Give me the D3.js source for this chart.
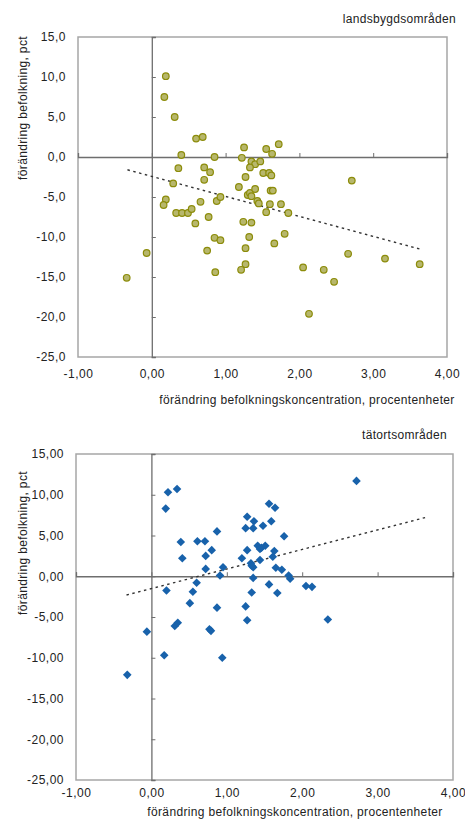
<!DOCTYPE html>
<html>
<head>
<meta charset="utf-8">
<script src="https://cdn.jsdelivr.net/npm/d3@7"></script>
<style>
  body { margin: 0; background: #fff; }
  svg { display: block; }
  text { font-family: "Liberation Sans", Arial, sans-serif; fill: #222; }
</style>
</head>
<body>
<svg id="chart" width="465" height="825"></svg>
<script>
// ---------- DATA ----------
// Top panel: landsbygdsområden
const ruralX = [0.19,0.17,0.31,0.60,0.69,1.25,0.40,0.85,1.22,0.36,0.71,0.79,1.55,1.72,1.63,1.35,1.40,1.47,1.33,1.27,
  1.51,1.59,1.62,0.71,2.71,0.29,1.18,0.19,0.16,0.66,0.88,0.93,0.33,0.41,0.49,0.54,0.77,0.59,0.85,0.93,
  0.75,0.86,-0.07,-0.34,1.24,1.35,1.32,1.27,1.27,1.21,1.30,1.33,1.35,1.40,1.61,1.64,1.43,1.45,1.60,1.75,
  1.55,1.85,1.80,1.66,2.66,3.16,3.63,2.05,2.33,2.47,2.13];
const ruralY = [10.1,7.5,5.0,2.3,2.5,1.2,0.25,0.0,-0.1,-1.4,-1.3,-1.9,1.0,1.6,0.4,-0.55,-0.9,-0.55,-1.3,-2.5,
  -2.0,-2.0,-2.3,-2.85,-2.95,-3.3,-3.75,-5.3,-6.0,-5.6,-5.5,-5.0,-7.0,-7.0,-7.0,-6.5,-7.5,-8.3,-10.1,-10.4,
  -11.7,-14.4,-12.0,-15.1,-8.1,-8.2,-10.0,-11.4,-13.4,-14.1,-4.75,-4.5,-4.9,-4.0,-4.2,-4.2,-5.5,-5.8,-5.9,-5.9,
  -6.9,-7.0,-9.6,-10.8,-12.1,-12.7,-13.4,-13.8,-14.1,-15.6,-19.6];

// Bottom panel: tätortsområden
const urbanX = [0.22,0.34,0.19,0.39,0.61,0.71,0.87,0.80,0.72,0.41,0.72,0.95,0.91,1.20,1.27,1.25,1.27,1.36,1.35,1.41,
  1.44,1.46,1.51,1.32,1.35,1.44,1.33,1.35,0.60,0.20,0.55,0.51,0.87,1.25,2.72,1.56,1.64,1.59,1.48,1.76,
  1.63,1.61,1.65,1.73,1.82,1.84,2.05,2.13,1.56,1.33,1.67,1.27,2.34,0.31,0.35,0.77,0.79,-0.06,0.17,0.94,-0.32];
const urbanY = [10.3,10.7,8.3,4.2,4.3,4.3,5.5,3.2,2.5,2.2,0.9,1.1,0.1,2.2,3.2,5.9,7.3,6.75,5.9,3.75,
  3.35,3.5,3.75,1.6,1.1,2.0,1.3,-0.2,-0.8,-1.75,-1.9,-3.3,-3.85,-3.7,11.7,8.9,8.4,6.75,6.2,4.9,
  3.1,2.4,1.05,0.8,0.1,-0.3,-1.2,-1.3,-1.0,-2.0,-2.05,-5.4,-5.3,-6.1,-5.7,-6.5,-6.7,-6.8,-9.7,-10.0,-12.1];

// Trend lines (endpoints)
const trendX = [-0.33, 3.63];
const ruralTrendY = [-1.6, -11.5];
const urbanTrendY = [-2.3, 7.2];

// Axis ticks / labels
const xTicks = [-1, 0, 1, 2, 3, 4];
const yTicks = [-25, -20, -15, -10, -5, 0, 5, 10, 15];
const ruralTitle = "landsbygdsområden";
const urbanTitle = "tätortsområden";
const xTitle = "förändring befolkningskoncentration, procentenheter";
const yTitle = "förändring befolkning, pct";

// ---------- DRAW ----------
const sv = d3.formatLocale({decimal: ",", thousands: " ", grouping: [3], currency: ["", " kr"], minus: "-"});
const svg = d3.select("#chart");
const FONT = "Liberation Sans, Arial, sans-serif";

function panel(cfg) {
  const x = d3.scaleLinear().domain([-1, 4]).range([cfg.x0, cfg.x1]);
  const y = d3.scaleLinear().domain([-25, 15]).range([cfg.y1, cfg.y0]);
  const g = svg.append("g");

  // plot border
  g.append("rect")
    .attr("x", cfg.x0).attr("y", cfg.y0)
    .attr("width", cfg.x1 - cfg.x0).attr("height", cfg.y1 - cfg.y0)
    .attr("fill", "none").attr("stroke", "#a6a6a6").attr("stroke-width", 1.5);

  // Zero axes with small ticks
  const yAxisZero = g.append("g").attr("transform", `translate(${x(0)},0)`)
    .call(d3.axisRight(y).tickValues(yTicks).tickSize(4).tickFormat(""));
  yAxisZero.select(".domain").attr("stroke", "#6e6e6e").attr("stroke-width", 1.3);
  yAxisZero.selectAll(".tick line").attr("stroke", "#6e6e6e");

  const xAxisZero = g.append("g").attr("transform", `translate(0,${y(0)})`)
    .call(d3.axisTop(x).tickValues(xTicks).tickSize(4).tickFormat(""));
  xAxisZero.select(".domain").attr("stroke", "#6e6e6e").attr("stroke-width", 1.3);
  xAxisZero.selectAll(".tick line").attr("stroke", "#6e6e6e");

  // tick labels at plot edges
  const yLab = g.append("g").attr("transform", `translate(${cfg.x0 - 9},0)`)
    .call(d3.axisLeft(y).tickValues(yTicks).tickSize(0).tickFormat(sv.format(cfg.yFmt)));
  yLab.select(".domain").remove();
  yLab.selectAll("text").attr("font-size", 12).attr("font-family", FONT)
    .attr("letter-spacing", 0.5).attr("fill", "#222");

  const xLab = g.append("g").attr("transform", `translate(0,${cfg.y1 + cfg.xlOff})`)
    .call(d3.axisBottom(x).tickValues(xTicks).tickSize(0).tickFormat(sv.format(".2f")));
  xLab.select(".domain").remove();
  xLab.selectAll("text").attr("font-size", 12).attr("font-family", FONT)
    .attr("letter-spacing", 0.5).attr("fill", "#222");

  // titles
  g.append("text").attr("x", cfg.subX).attr("y", cfg.subY).attr("text-anchor", "end")
    .attr("font-size", 12).attr("letter-spacing", 0.3).text(cfg.sub);
  g.append("text").attr("x", cfg.xtX).attr("y", cfg.xtY).attr("text-anchor", "middle")
    .attr("font-size", 12).attr("letter-spacing", 0.35).text(xTitle);
  g.append("text").attr("transform", `translate(${cfg.ytX},${cfg.ytY}) rotate(-90)`)
    .attr("text-anchor", "middle").attr("font-size", 12).attr("letter-spacing", 0.35).text(yTitle);

  // trend line
  const tr = trendX.map((d, i) => [d, cfg.trend[i]]);
  g.append("path").datum(tr)
    .attr("d", d3.line().x(d => x(d[0])).y(d => y(d[1])))
    .attr("fill", "none").attr("stroke", "#333").attr("stroke-width", 1.4)
    .attr("stroke-dasharray", "2.5,3.5");

  // points
  const pts = cfg.xs.map((d, i) => [d, cfg.ys[i]]);
  if (cfg.marker === "circle") {
    g.selectAll("circle.pt").data(pts).join("circle")
      .attr("class", "pt")
      .attr("cx", d => x(d[0])).attr("cy", d => y(d[1])).attr("r", 3.3)
      .attr("fill", "#b7b76c").attr("stroke", "#8c8c0a").attr("stroke-width", 1.2);
  } else {
    g.selectAll("path.pt").data(pts).join("path")
      .attr("class", "pt")
      .attr("transform", d => `translate(${x(d[0])},${y(d[1])})`)
      .attr("d", "M0,-4.3L4.3,0L0,4.3L-4.3,0Z")
      .attr("fill", "#1862ab");
  }
}

panel({x0: 78, x1: 447, y0: 37, y1: 357, yFmt: ".1f", xs: ruralX, ys: ruralY, trend: ruralTrendY,
  marker: "circle", sub: ruralTitle, subX: 456, subY: 23, xtX: 307, xtY: 404, ytX: 27, ytY: 108, xlOff: 9});
panel({x0: 76, x1: 453, y0: 454, y1: 780, yFmt: ".2f", xs: urbanX, ys: urbanY, trend: urbanTrendY,
  marker: "diamond", sub: urbanTitle, subX: 447, subY: 439, xtX: 295, xtY: 816, ytX: 27, ytY: 543, xlOff: 5});
</script>
</body>
</html>
